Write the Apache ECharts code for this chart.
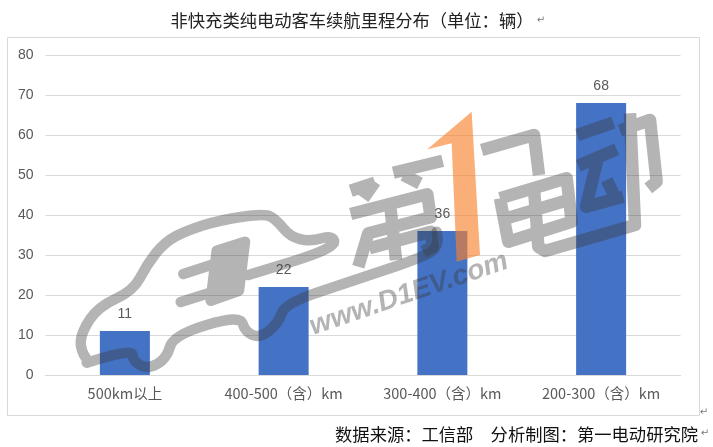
<!DOCTYPE html>
<html><head><meta charset="utf-8">
<style>html,body{margin:0;padding:0;background:#fff}#c{width:713px;height:447px}</style>
<script src="https://cdn.jsdelivr.net/npm/echarts@6/dist/echarts.min.js"></script>
</head><body><div id="c"></div>
<script>
const categories=['500km以上','400-500（含）km','300-400（含）km','200-300（含）km'];
const values=[11,22,36,68];
const yTicks=[0,10,20,30,40,50,60,70,80];
const titleText='非快充类纯电动客车续航里程分布（单位：辆）';
const sourceText='数据来源：工信部\u3000分析制图：第一电动研究院';
const cjk='"Noto Sans CJK SC","Liberation Sans",sans-serif';
const gray='rgba(58,58,58,0.38)';
const orange='rgba(248,128,41,0.63)';
const A=p=>p.map(([x,y])=>[70+x/3,200+y/3]);
const B=p=>p.map(([x,y])=>[340+x/3,100+y/3]);
const straight=p=>'M'+p.map(q=>q[0].toFixed(1)+' '+q[1].toFixed(1)).join('L');
const curve=p=>{let s='M'+p[0][0].toFixed(1)+' '+p[0][1].toFixed(1);
  for(let i=1;i<p.length-1;i++){const m=[(p[i][0]+p[i+1][0])/2,(p[i][1]+p[i+1][1])/2];
    s+='Q'+p[i][0].toFixed(1)+' '+p[i][1].toFixed(1)+' '+m[0].toFixed(1)+' '+m[1].toFixed(1);}
  const e=p[p.length-1];return s+'L'+e[0].toFixed(1)+' '+e[1].toFixed(1);};
const carPath=[
  curve(A([[50,478],[30,450],[35,395],[85,320],[190,272],[230,195],[285,125],[350,92],[450,60],[585,40],[620,60],[660,110],[720,125],[790,105],[795,145],[535,225]])),
  curve(A([[50,488],[185,445],[190,485],[235,508],[290,475],[310,405],[510,345],[525,395],[570,415],[625,370],[645,310],[840,245],[1080,165],[1105,130],[1100,95]])),
  straight(A([[440,152],[525,125],[507,272],[422,302],[440,152]])),
  straight(A([[470,150],[452,285]])),straight(A([[497,140],[480,280]])),straight(A([[440,170],[510,150]])),straight(A([[435,220],[505,200]])),straight(A([[428,270],[500,245]])),
  straight(A([[340,222],[430,193]])),straight(A([[332,306],[420,278]]))
];
const glyphPath=[
  straight(B([[32,272],[105,248]])),straight(B([[105,245],[70,295]])),straight(B([[160,218],[308,182]])),straight(B([[190,225],[240,250]])),
  straight(B([[32,342],[262,283],[272,352],[85,400],[55,500]])),straight(B([[150,310],[168,480]])),straight(B([[88,445],[272,395],[278,440],[250,455]])),
  straight(B([[425,150],[582,105],[597,225]])),
  straight(B([[480,295],[680,235],[695,365],[505,425],[480,295]])),straight(B([[490,358],[685,300]])),
  straight(B([[582,265],[595,440],[615,453],[885,375],[870,40]])),
  straight(B([[712,105],[820,68]])),straight(B([[715,197],[830,148]])),
  straight(B([[772,180],[738,320],[850,290]])),straight(B([[800,240],[835,310]])),
  straight(B([[840,92],[930,60],[950,245],[925,265]]))
];
echarts.graphic.registerShape('carMark',echarts.graphic.extendPath(carPath.join('')));
echarts.graphic.registerShape('glyphMark',echarts.graphic.extendPath(glyphPath.join('')));
const mark=(t,x,y)=>({type:'text',x:x,y:y,silent:true,style:{text:t,fill:'#777',font:'10px "DejaVu Sans"',align:'center',verticalAlign:'middle'}});
const chart=echarts.init(document.getElementById('c'),null,{renderer:'canvas'});
chart.setOption({
  animation:false,
  grid:{left:45.5,right:32.5,top:55,bottom:72},
  xAxis:{type:'category',data:categories,
    axisTick:{show:false},axisLine:{lineStyle:{color:'#D9D9D9',width:1}},
    axisLabel:{color:'#595959',fontFamily:cjk,fontSize:14.5,margin:11,interval:0}},
  yAxis:{type:'value',min:yTicks[0],max:yTicks[yTicks.length-1],interval:10,
    axisLine:{show:false},axisTick:{show:false},
    splitLine:{lineStyle:{color:'#D9D9D9',width:1}},
    axisLabel:{color:'#595959',fontFamily:'"Liberation Sans"',fontSize:14,margin:11,padding:[4,1,0,0]}},
  series:[{type:'bar',data:values,barWidth:50,itemStyle:{color:'#4472C4'},
    label:{show:true,position:'top',distance:10,color:'#595959',fontFamily:'"Liberation Sans"',fontSize:14}}],
  graphic:[
    {type:'rect',silent:true,z:-1,shape:{x:7.5,y:37.5,width:692,height:378},style:{fill:null,stroke:'#D9D9D9',lineWidth:1}},
    {type:'text',x:352,y:20,silent:true,style:{text:titleText,fill:'#222',font:'17.3px '+cjk,align:'center',verticalAlign:'middle'}},
    {type:'text',x:698,y:434,silent:true,style:{text:sourceText,fill:'#111',font:'17.3px '+cjk,align:'right',verticalAlign:'middle'}},
    mark('↵',541,20),mark('↵',704,412),mark('↵',705,433),
    {type:'carMark',z:50,silent:true,style:{fill:null,stroke:gray,lineWidth:10.5,lineJoin:'round',lineCap:'round'}},
    {type:'glyphMark',z:50,silent:true,style:{fill:null,stroke:gray,lineWidth:12.5,lineJoin:'round',lineCap:'butt'}},
    {type:'polygon',z:50,silent:true,shape:{points:B([[262,148],[395,35],[420,465],[350,485],[335,130]])},style:{fill:orange}},
    {type:'text',z:50,silent:true,x:409,y:294,rotation:0.33,style:{text:'www.D1EV.com',fill:gray,font:'italic 700 28px "Liberation Sans"',align:'center',verticalAlign:'middle'}}
  ]
});
</script></body></html>
